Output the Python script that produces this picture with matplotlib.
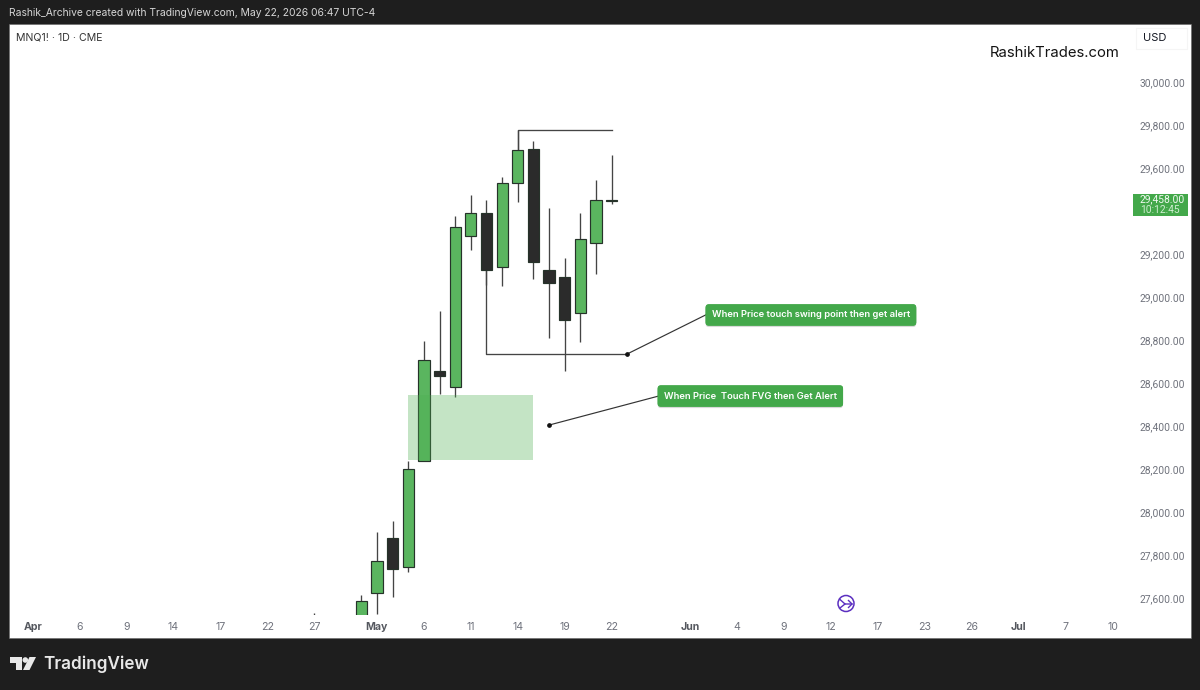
import matplotlib
matplotlib.use("Agg")
import matplotlib.pyplot as plt
import matplotlib.patheffects as pe
from matplotlib.patches import Rectangle, Circle, Polygon
from matplotlib.lines import Line2D
from matplotlib.transforms import ScaledTranslation

plt.rcParams['font.family'] = ['Inter', 'DejaVu Sans']

# candles, x is bars from May 1
bar_index = [-4, -1, 0, 1, 2, 3, 4, 5, 6, 7, 8, 9, 10, 11, 12, 13, 14, 15]
opens =  [27500, 27500, 27627, 27884, 27750, 28243, 28662, 28586, 29290, 29395, 29146, 29536, 29693, 29132, 29098, 28929, 29257, 29450]
closes = [27510, 27592, 27777, 27740, 28203, 28712, 28637, 29332, 29395, 29130, 29534, 29687, 29169, 29071, 28898, 29274, 29454, 29458]
highs =  [27534, 27619, 27913, 27963, 28243, 28800, 28941, 29381, 29479, 29456, 29563, 29781, 29732, 29417, 29187, 29394, 29550, 29665]
lows =   [27480, 27480, 27530, 27611, 27726, 28243, 28554, 28541, 29223, 29060, 29056, 29447, 29088, 28813, 28662, 28794, 29112, 29437]

date_ticks = [-22, -19, -16, -13, -10, -7, -4, 0, 3, 6, 9, 12, 15, 20, 23, 26, 29, 32, 35, 38, 41, 44, 47]
date_labels = ['Apr', '6', '9', '14', '17', '22', '27', 'May', '6', '11', '14', '19', '22', 'Jun', '4', '9', '12', '17', '23', '26', 'Jul', '7', '10']
month_labels = ['Apr', 'May', 'Jun', 'Jul']
# 29,400 sits under the last price badge so it is not shown
price_ticks = [27600, 27800, 28000, 28200, 28400, 28600, 28800, 29000, 29200, 29600, 29800, 30000]

# drawings on the chart
swing_high = 29781
swing_low = 28740
fvg_top = 28549
fvg_bottom = 28247
last_price = 29458

GREEN = '#5ab55f'
DARK = '#2b2b2b'
EDGE = '#26332a'
LABEL_GREEN = '#43a84a'
BG = '#1e1e1e'

fig = plt.figure(figsize=(12, 6.9), dpi=100, facecolor=BG)

def fx(x):
    return x / 1200

def fy(y):
    return 1 - y / 690

# white panel behind the chart and both scales
fig.add_artist(Rectangle((fx(9), fy(637.5)), fx(1182), 613.5 / 690, transform=fig.transFigure,
                         facecolor='white', edgecolor='#666666', linewidth=0.4, zorder=-1))

ax = fig.add_axes([fx(9), fy(615), 1124 / 1200, 591 / 690])
ax.patch.set_alpha(0)
for s in ax.spines.values():
    s.set_visible(False)
ax.set_xlim(-23.51, 48.31)
ax.set_ylim(27525.6, 30274.4)

# candles
ax.vlines(bar_index, lows, highs, color='#444444', linewidth=0.95, zorder=2)
for i, o, c in zip(bar_index, opens, closes):
    col = GREEN if c >= o and i != 15 else DARK
    ax.bar(i, abs(c - o), bottom=min(o, c), width=0.72, color=col, edgecolor=EDGE, linewidth=0.85, zorder=3)

# FVG zone
ax.add_patch(Rectangle((2, fvg_bottom), 8, fvg_top - fvg_bottom, facecolor='#4caf50', alpha=0.33, edgecolor='none', zorder=4))

# swing lines
ax.plot([9, 9, 15], [29687, swing_high, swing_high], color='#444444', linewidth=0.95, zorder=2)
ax.plot([7, 7, 16], [29130, swing_low, swing_low], color='#444444', linewidth=0.95, zorder=2)

# callouts
ax.plot([16, 21], [swing_low, 28921], color='#333333', linewidth=0.85, zorder=5)
ax.plot([11, 18], [28409, 28544], color='#333333', linewidth=0.85, zorder=5)
ax.plot([16, 11], [swing_low, 28409], linestyle='none', marker='o', markersize=2.4, color='#111111', zorder=6)

def callout(x, y, txt):
    t = ax.text(x, y, txt, ha='center', va='center', color='white', fontsize=6.75, fontweight='semibold', zorder=7,
                bbox=dict(boxstyle='round,pad=0.66,rounding_size=0.35', facecolor=LABEL_GREEN, edgecolor='none'))
    t.get_bbox_patch().set_path_effects([pe.withSimplePatchShadow(offset=(0, -1), shadow_rgbFace='#000000', alpha=0.15), pe.Normal()])

callout(27.73, 28921, 'When Price touch swing point then get alert')
callout(23.86, 28544, 'When Price  Touch FVG then Get Alert')

# scales
ax.set_xticks(date_ticks)
ax.set_xticklabels(date_labels, fontsize=7.6, color='#6f727c')
for lab in ax.get_xticklabels():
    if lab.get_text() in month_labels:
        lab.set_fontweight('bold')
        lab.set_color('#55585f')
ax.tick_params(axis='x', length=0, pad=5)
ax.yaxis.tick_right()
ax.set_yticks(price_ticks)
ax.set_yticklabels([f'{p:,.2f}' for p in price_ticks], fontsize=7.4, color='#6f727c', family=['Roboto', 'DejaVu Sans'])
ax.tick_params(axis='y', length=0, pad=5)
up = ScaledTranslation(0, 1.2 / 100, fig.dpi_scale_trans)
for lab in ax.get_yticklabels():
    lab.set_transform(lab.get_transform() + up)

# last price badge on the scale
ybox = ax.get_yaxis_transform()
ax.add_patch(Rectangle((1.0, 29382), 0.049, 102, transform=ybox, facecolor=LABEL_GREEN, edgecolor='none', clip_on=False, zorder=8))
ax.text(1.0062, last_price + 1, f'{last_price:,.2f}', transform=ybox, ha='left', va='center',
        fontsize=7.4, color='#f2faf2', clip_on=False, zorder=9, family=['Roboto', 'DejaVu Sans'])
ax.text(1.0062, last_price - 48, '10:12:45', transform=ybox, ha='left', va='center',
        fontsize=7.4, color='#cfeed1', clip_on=False, zorder=9, family=['Roboto', 'DejaVu Sans'])

# USD button
fig.add_artist(Rectangle((fx(1136), fy(49)), fx(51), 21 / 690, transform=fig.transFigure,
                         facecolor='white', edgecolor='#f5f5f5', linewidth=0.8))
fig.text(fx(1143.5), fy(38), 'USD', fontsize=8, color='#131722', va='center', ha='left')

# texts
fig.text(fx(9), fy(13.5), 'Rashik_Archive created with TradingView.com, May 22, 2026 06:47 UTC-4', fontsize=7.45, color='#d6d6d6', va='center', ha='left')
fig.text(fx(15.5), fy(37.5), 'MNQ1! · 1D · CME', fontsize=7.6, color='#333333', va='center', ha='left')
fig.text(fx(990), fy(53), 'RashikTrades.com', fontsize=10.7, color='#131313', va='center', ha='left')

# purple event icon
PURPLE = '#5b2fc0'
fig.add_artist(Circle((846, 690 - 603.5), 8, transform=None, facecolor='white', edgecolor=PURPLE, linewidth=1.1))
for xs, ys in [([840, 845, 852], [599.5, 604, 604]), ([840, 845], [608, 604]), ([848.5, 852, 848.5], [600.5, 604, 607.5])]:
    fig.add_artist(Line2D([fx(v) for v in xs], [fy(v) for v in ys], transform=fig.transFigure, color=PURPLE, linewidth=1.0))

# TradingView logo
LOGO = '#e8e8e8'
for pts in [[(10, 657), (21.5, 657), (21.5, 670), (15.5, 670), (15.5, 662.5), (10, 662.5)],
            [(29.5, 657), (36, 657), (29.5, 670), (23, 670)]]:
    fig.add_artist(Polygon([(fx(x), fy(y)) for x, y in pts], transform=fig.transFigure, facecolor=LOGO, edgecolor='none'))
fig.add_artist(Circle((25.3, 690 - 660), 2.8, transform=None, facecolor=LOGO, edgecolor='none'))
fig.text(fx(43), fy(664), 'TradingView', fontsize=12.3, fontweight='semibold', color=LOGO, va='center', ha='left')

fig.savefig('out.png', dpi=100, facecolor=BG)
